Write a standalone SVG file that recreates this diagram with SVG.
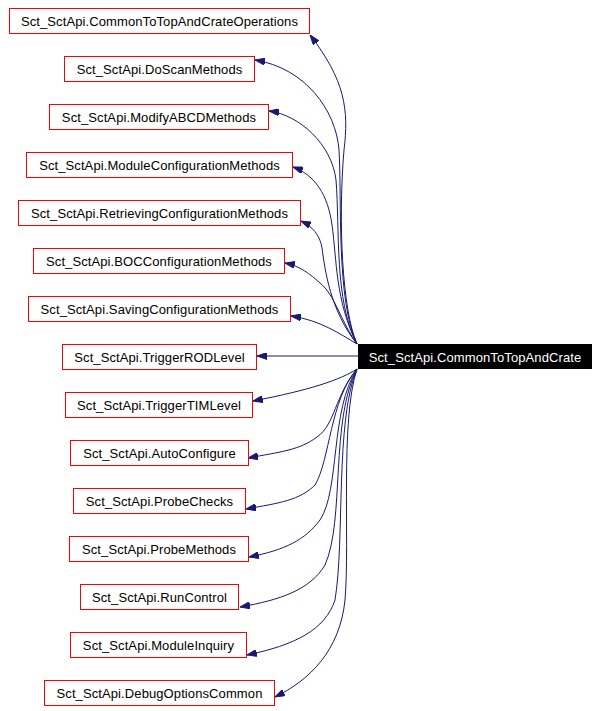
<svg xmlns="http://www.w3.org/2000/svg" width="599" height="711" viewBox="0 0 599 711">
<style>
.n rect{fill:#fff;stroke:#f00;stroke-width:1}
.n text{font-family:"Liberation Sans",Arial,sans-serif;font-size:13px;letter-spacing:0.1px;text-anchor:middle;fill:#000}
#root rect{fill:#000;stroke:#000}
#root text{fill:#fff}
.e path{fill:none;stroke:#191970;stroke-width:1;marker-end:url(#ah)}
</style>
<defs>
<marker id="ah" viewBox="0 0 10 7" refX="10" refY="3.5" markerWidth="10" markerHeight="7" markerUnits="userSpaceOnUse" orient="auto">
<path d="M0,0 L10,3.5 L0,7 z" fill="#191970" stroke="#191970"/>
</marker>
</defs>
<rect width="599" height="711" fill="#fff"/>
<g class="e" id="edges">
<path d="M357,344 C342,310 338,220 344,150 C349,110 345,80 310,35"/>
<path d="M357,344 C336,300 342,200 339,150 C336,110 305,68 255,60"/>
<path d="M357,344 C334,300 340,230 336,180 C332,145 300,115 269,111"/>
<path d="M357,344 C335,300 337,260 332,225 C328,195 315,175 293,167"/>
<path d="M357,344 C330,310 325,270 322,248 C320,235 312,226 301,221"/>
<path d="M357,344 C340,320 335,295 320,283 C310,274 300,266 285,263"/>
<path d="M357,344 C340,334 320,320 291,316"/>
<path d="M358,356 L257,356"/>
<path d="M357,369 C340,380 310,390 253,401"/>
<path d="M357,369 C335,395 335,425 317,437 C300,450 280,452 248,458"/>
<path d="M357,369 C330,400 330,460 315,485 C300,500 280,503 246,509"/>
<path d="M357,369 C330,410 340,490 320,520 C305,540 285,550 249,557"/>
<path d="M357,369 C330,420 345,520 325,565 C310,590 280,600 240,607"/>
<path d="M357,369 C335,420 345,540 335,600 C325,630 295,645 247,655"/>
<path d="M357,369 C340,420 350,540 345,600 C340,650 310,680 275,697"/>
</g>
<g class="n" id="n0"><rect x="9.5" y="8.5" width="300" height="25"/><text x="159.5" y="25.5">Sct_SctApi.CommonToTopAndCrateOperations</text></g>
<g class="n" id="n1"><rect x="64.5" y="56.5" width="190" height="25"/><text x="159.5" y="73.5">Sct_SctApi.DoScanMethods</text></g>
<g class="n" id="n2"><rect x="49.5" y="104.5" width="219" height="25"/><text x="159" y="121.5">Sct_SctApi.ModifyABCDMethods</text></g>
<g class="n" id="n3"><rect x="26.5" y="152.5" width="266" height="25"/><text x="159.5" y="169.5">Sct_SctApi.ModuleConfigurationMethods</text></g>
<g class="n" id="n4"><rect x="18.5" y="200.5" width="282" height="25"/><text x="159.5" y="217.5">Sct_SctApi.RetrievingConfigurationMethods</text></g>
<g class="n" id="n5"><rect x="33.5" y="248.5" width="251" height="25"/><text x="159" y="265.5">Sct_SctApi.BOCConfigurationMethods</text></g>
<g class="n" id="n6"><rect x="28.5" y="296.5" width="262" height="25"/><text x="159.5" y="313.5">Sct_SctApi.SavingConfigurationMethods</text></g>
<g class="n" id="n7"><rect x="62.5" y="344.5" width="194" height="25"/><text x="159.5" y="361.5">Sct_SctApi.TriggerRODLevel</text></g>
<g class="n" id="n8"><rect x="65.5" y="392.5" width="187" height="25"/><text x="159" y="409.5">Sct_SctApi.TriggerTIMLevel</text></g>
<g class="n" id="n9"><rect x="70.5" y="440.5" width="178" height="25"/><text x="159.5" y="457.5">Sct_SctApi.AutoConfigure</text></g>
<g class="n" id="n10"><rect x="73.5" y="488.5" width="172" height="25"/><text x="159.5" y="505.5">Sct_SctApi.ProbeChecks</text></g>
<g class="n" id="n11"><rect x="69.5" y="536.5" width="179" height="25"/><text x="159" y="553.5">Sct_SctApi.ProbeMethods</text></g>
<g class="n" id="n12"><rect x="80.5" y="584.5" width="158" height="25"/><text x="159.5" y="601.5">Sct_SctApi.RunControl</text></g>
<g class="n" id="n13"><rect x="70.5" y="632.5" width="176" height="25"/><text x="158.5" y="649.5">Sct_SctApi.ModuleInquiry</text></g>
<g class="n" id="n14"><rect x="44.5" y="680.5" width="230" height="25"/><text x="159.5" y="697.5">Sct_SctApi.DebugOptionsCommon</text></g>
<g class="n" id="root"><rect x="358.5" y="344.5" width="233" height="24"/><text x="475" y="361.5">Sct_SctApi.CommonToTopAndCrate</text></g>
</svg>
